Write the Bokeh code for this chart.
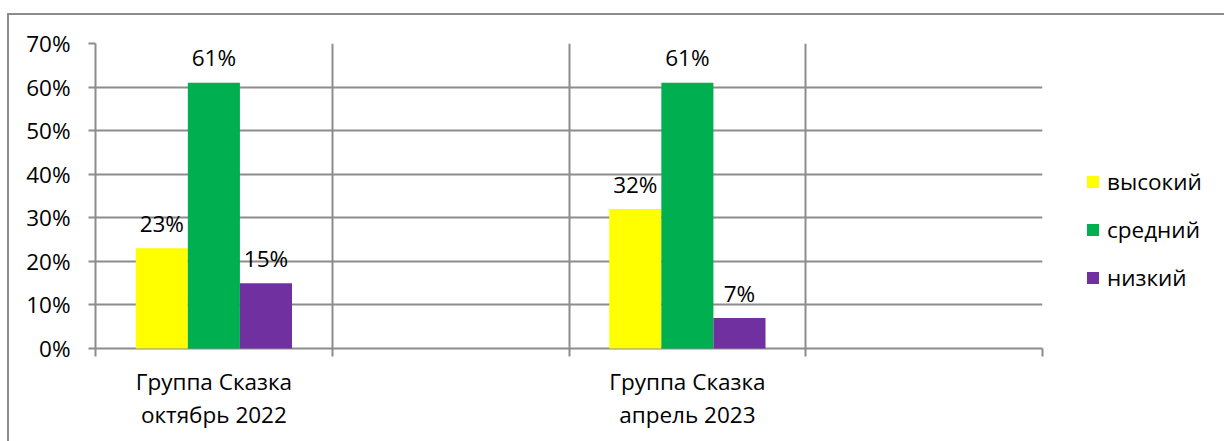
from bokeh.plotting import figure
from bokeh.models import (Range1d, FixedTicker, ColumnDataSource, Legend, LegendItem, LabelSet)
from bokeh.core.properties import value
from bokeh.embed import file_html
from bokeh.resources import INLINE

categories = ["Группа Сказка\nоктябрь 2022", "Группа Сказка\nапрель 2023"]
series = ["высокий", "средний", "низкий"]
high = [23, 32]
mid = [61, 61]
low = [15, 7]
y_ticks = [0, 10, 20, 30, 40, 50, 60, 70]
y_tick_labels = ["0%", "10%", "20%", "30%", "40%", "50%", "60%", "70%"]
colors = ["#FFFF00", "#00B050", "#7030A0"]

FONT = "Open Sans"
FS = "22.5px"
GRID = "#8c8c8c"

p = figure(width=1215, height=426, output_backend="svg", toolbar_location=None,
           x_range=Range1d(0, 4), y_range=Range1d(0, 70),
           frame_width=947, frame_height=305,
           min_border_left=86, min_border_right=182, min_border_top=28, min_border_bottom=93)
p.margin = (15, 0, 0, 9)
p.styles = {"outline": "2px solid #8c8c8c"}
p.outline_line_color = None
p.background_fill_color = "white"
p.border_fill_color = "white"

cat_centers = [0.5, 2.5]
offsets = [-0.22, 0.0, 0.22]
bw = 0.22
renderers = []
for vals, off, col in zip([high, mid, low], offsets, colors):
    xs = [c + off for c in cat_centers]
    src = ColumnDataSource(dict(x=xs, top=vals, lab=[f"{v}%" for v in vals]))
    r = p.vbar(x="x", top="top", width=bw, source=src, fill_color=col, line_color=None)
    r.level = "overlay"
    renderers.append(r)
    ls = LabelSet(x="x", y="top", text="lab", source=src, text_align="center",
                  text_baseline="middle", y_offset=25, text_font=value(FONT),
                  text_font_size=value(FS), text_color="#000000")
    p.add_layout(ls)

# grids
p.xgrid.ticker = FixedTicker(ticks=[0, 1, 2, 3, 4])
p.xgrid.grid_line_color = GRID
p.xgrid.grid_line_width = 2
p.ygrid.ticker = FixedTicker(ticks=y_ticks)
p.ygrid.grid_line_color = GRID
p.ygrid.grid_line_width = 2

# y axis
p.yaxis.ticker = FixedTicker(ticks=y_ticks)
p.yaxis.major_label_overrides = {t: l for t, l in zip(y_ticks, y_tick_labels)}
p.yaxis.axis_line_color = GRID
p.yaxis.axis_line_width = 2
p.yaxis.major_tick_line_color = GRID
p.yaxis.major_tick_line_width = 2
p.yaxis.major_tick_out = 7
p.yaxis.major_tick_in = 0
p.yaxis.minor_tick_line_color = None
p.yaxis.major_label_standoff = 18
p.yaxis.major_label_text_font = FONT
p.yaxis.major_label_text_font_size = FS
p.yaxis.major_label_text_color = "#000000"

# x axis
p.xaxis.ticker = FixedTicker(ticks=cat_centers, minor_ticks=[0, 1, 2, 3, 4])
p.xaxis.major_label_overrides = {c: l for c, l in zip(cat_centers, categories)}
p.xaxis.axis_line_color = GRID
p.xaxis.axis_line_width = 2
p.xaxis.major_tick_line_color = None
p.xaxis.major_tick_out = 0
p.xaxis.major_tick_in = 0
p.xaxis.minor_tick_line_color = GRID
p.xaxis.minor_tick_line_width = 2
p.xaxis.minor_tick_out = 8
p.xaxis.minor_tick_in = 0
p.xaxis.major_label_standoff = 9
p.xaxis.major_label_text_font = FONT
p.xaxis.major_label_text_font_size = FS
p.xaxis.major_label_text_line_height = 1.09
p.xaxis.major_label_text_color = "#000000"

legend = Legend(items=[LegendItem(label=s, renderers=[r]) for s, r in zip(series, renderers)],
                location=(43, 55), orientation="vertical")
legend.glyph_width = 15
legend.glyph_height = 15
legend.label_standoff = 7
legend.label_height = 20
legend.spacing = 17
legend.padding = 0
legend.margin = 0
legend.border_line_color = None
legend.background_fill_alpha = 0
legend.label_text_font = FONT
legend.label_text_font_size = FS
legend.label_text_color = "#000000"
p.add_layout(legend, "right")

open("out.html", "w").write(file_html(p, INLINE))
